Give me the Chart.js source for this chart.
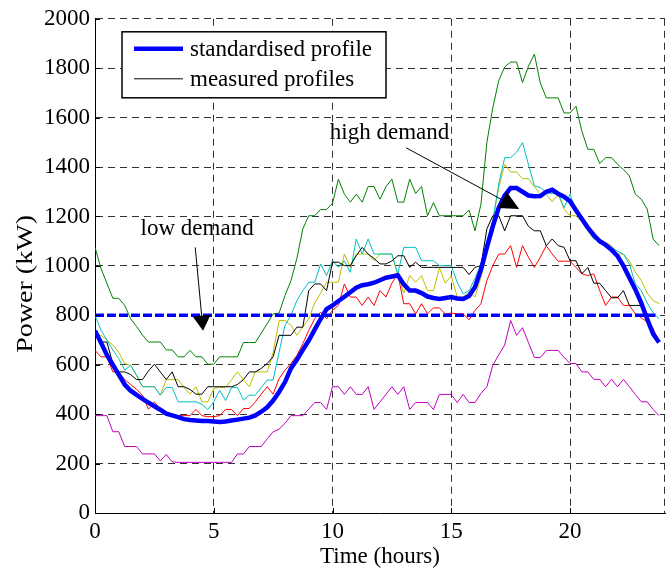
<!DOCTYPE html>
<html>
<head>
<meta charset="utf-8">
<title>Power profiles</title>
<script src="https://cdn.jsdelivr.net/npm/chart.js@4.4.0/dist/chart.umd.min.js"></script>
<style>
  html, body { margin: 0; padding: 0; background: #fff; }
</style>
</head>
<body>
<canvas id="power-graph" width="670" height="571"></canvas>
<script>
// quarter-hour sample times over one day
const hours = Array.from({ length: 96 }, (_, i) => i / 4);

// standardised profile (kW)
const standardised = [
    737, 690, 640, 600, 560, 520, 495, 478,
    462, 447, 432, 418, 402, 395, 388, 380,
    376, 374, 372, 372, 370, 368, 370, 374,
    378, 382, 386, 395, 410, 428, 455, 490,
    530, 585, 620, 660, 698, 742, 785, 825,
    840, 858, 875, 893, 912, 922, 926, 932,
    942, 952, 957, 962, 925, 900, 900, 890,
    876, 870, 866, 870, 874, 868, 866, 878,
    915, 985, 1075, 1160, 1236, 1285, 1315, 1315,
    1300, 1285, 1282, 1283, 1300, 1308, 1292, 1280,
    1262, 1225, 1190, 1155, 1125, 1100, 1085, 1065,
    1040, 1000, 952, 905, 850, 785, 725, 690
];

// measured profiles (kW)
const measuredGreen = [
    1075, 990, 930, 869, 869, 840, 786, 755,
    720, 692, 692, 692, 660, 660, 632, 632,
    658, 632, 632, 602, 602, 632, 632, 632,
    632, 690, 690, 690, 728, 766, 806, 809,
    880, 940, 1030, 1150, 1203, 1203, 1228, 1228,
    1254, 1351, 1290, 1258, 1290, 1258, 1321, 1321,
    1270, 1320, 1351, 1258, 1258, 1351, 1293, 1321,
    1203, 1256, 1203, 1203, 1203, 1203, 1203, 1226,
    1142, 1250, 1500, 1640, 1750, 1805, 1825, 1825,
    1742, 1808, 1857, 1740, 1680, 1680, 1680, 1619,
    1619, 1646, 1545, 1472, 1472, 1414, 1438, 1438,
    1411, 1390, 1364, 1290, 1270, 1230, 1109, 1082
];
const measuredCyan = [
    800, 740, 700, 660, 625, 578, 598, 558,
    511, 511, 511, 477, 508, 508, 450, 450,
    450, 450, 440, 419, 450, 497, 455, 508,
    508, 457, 477, 477, 508, 538, 538, 650,
    760, 800, 860, 900, 934, 934, 1008, 961,
    1021, 994, 1021, 974, 1109, 1048, 1109, 1048,
    1048, 1048, 1048, 968, 1075, 1075, 1075, 1021,
    1021, 1021, 1001, 1001, 1001, 934, 887, 900,
    950, 1008, 1100, 1183, 1331, 1438, 1438, 1460,
    1499, 1411, 1324, 1317, 1297, 1293, 1293, 1236,
    1290, 1223, 1189, 1150, 1109, 1109, 1090, 1075,
    1060, 1048, 1008, 927, 900, 850, 810, 786
];
const measuredOlive = [
    719, 719, 700, 680, 650, 605, 598, 555,
    511, 511, 511, 477, 540, 540, 540, 508,
    481, 511, 450, 450, 504, 508, 508, 540,
    571, 538, 511, 571, 571, 571, 650, 779,
    779, 760, 719, 752, 786, 850, 890, 934,
    934, 934, 1048, 994, 1048, 1048, 1048, 1021,
    1048, 1048, 1048, 961, 890, 961, 934, 961,
    900, 900, 992, 930, 961, 874, 874, 894,
    874, 954, 1048, 1183, 1317, 1411, 1380, 1380,
    1353, 1353, 1320, 1290, 1290, 1260, 1290, 1230,
    1203, 1203, 1180, 1140, 1109, 1109, 1095, 1082,
    1048, 1048, 1020, 975, 941, 890, 860, 847
];
const measuredBlack = [
    730, 692, 692, 605, 571, 571, 560, 540,
    540, 575, 602, 571, 540, 571, 511, 511,
    500, 481, 481, 511, 511, 511, 511, 511,
    520, 540, 571, 571, 585, 605, 632, 719,
    719, 719, 752, 752, 900, 927, 927, 900,
    1015, 1015, 1001, 1001, 1041, 1075, 1048, 1030,
    1008, 1008, 1020, 1041, 1041, 994, 1015, 994,
    994, 994, 994, 994, 994, 994, 994, 965,
    994, 1001, 1150, 1203, 1203, 1142, 1203, 1203,
    1203, 1160, 1142, 1142, 1082, 1109, 1082, 1075,
    1021, 1021, 968, 994, 930, 930, 900, 871,
    871, 900, 840, 840, 840, 806, 726, 699
];
const measuredRed = [
    658, 632, 632, 571, 571, 540, 520, 500,
    477, 420, 450, 419, 405, 394, 394, 394,
    394, 419, 394, 390, 390, 394, 419, 419,
    394, 423, 423, 450, 481, 511, 481, 544,
    578, 605, 638, 685, 739, 786, 813, 786,
    820, 840, 927, 874, 874, 840, 874, 840,
    900, 874, 930, 968, 847, 847, 806, 847,
    806, 830, 830, 806, 809, 806, 806, 782,
    820, 847, 941, 1001, 1048, 1048, 1082, 994,
    1082, 1035, 994, 1035, 1082, 1048, 1019, 1019,
    1019, 994, 968, 961, 968, 900, 840, 874,
    874, 840, 840, 806, 790, 773, 746, 692
];
const measuredMagenta = [
    394, 394, 394, 329, 329, 269, 269, 269,
    239, 239, 239, 211, 237, 207, 205, 205,
    205, 205, 205, 205, 205, 205, 205, 205,
    239, 239, 269, 269, 269, 300, 329, 339,
    363, 394, 394, 394, 420, 447, 447, 419,
    511, 511, 480, 511, 480, 480, 511, 419,
    450, 480, 511, 480, 511, 419, 447, 447,
    447, 419, 480, 480, 480, 447, 480, 447,
    447, 484, 511, 598, 640, 680, 779, 719,
    750, 690, 629, 629, 658, 658, 658, 630,
    605, 605, 571, 571, 541, 541, 511, 541,
    511, 541, 511, 480, 450, 450, 419, 394
];

// threshold separating low and high demand
const demandLevel = 800;
const demandLevelHours = [0, 23.6];

const measuredSeries = [
    { values: measuredBlack, color: 'rgb(0,0,0)' },
    { values: measuredGreen, color: 'rgb(0,128,0)' },
    { values: measuredCyan, color: 'rgb(0,191,191)' },
    { values: measuredOlive, color: 'rgb(191,191,0)' },
    { values: measuredRed, color: 'rgb(255,0,0)' },
    { values: measuredMagenta, color: 'rgb(191,0,191)' }
];

const SERIF = "'Liberation Serif', 'Times New Roman', serif";
const FONT_SIZE = 23;
const GRID = '#333';

function toPoints(values) { // pairs every value with its sample time
    return values.map((v, i) => ({ x: hours[i], y: v }));
}

function drawArrow(ctx, x1, y1, x2, y2, len, half) { // thin shaft with a filled head at (x2, y2)
    const ang = Math.atan2(y2 - y1, x2 - x1);
    const bx = x2 - len * Math.cos(ang);
    const by = y2 - len * Math.sin(ang);
    ctx.beginPath();
    ctx.moveTo(x1, y1);
    ctx.lineTo(bx, by);
    ctx.stroke();
    ctx.beginPath();
    ctx.moveTo(x2, y2);
    ctx.lineTo(bx - half * Math.sin(ang), by + half * Math.cos(ang));
    ctx.lineTo(bx + half * Math.sin(ang), by - half * Math.cos(ang));
    ctx.closePath();
    ctx.fill();
}

// text labels with arrows, placed in data units (hours, kW)
const notes = [
    { text: 'low demand', at: [4.3, 1150], from: [4.22, 1075], to: [4.55, 738], len: 15, half: 9 },
    { text: 'high demand', at: [12.4, 1540], from: [13.1, 1478], to: [17.86, 1230], len: 19, half: 9 }
];

const overlay = {
    id: 'overlay',
    afterDatasetsDraw(chart) {
        const { ctx, chartArea: a, scales: { x, y } } = chart;
        ctx.save();

        // dashed right edge of the plot box
        ctx.strokeStyle = GRID;
        ctx.lineWidth = 1;
        ctx.setLineDash([7, 5]);
        ctx.beginPath();
        ctx.moveTo(a.right - 0.5, a.top);
        ctx.lineTo(a.right - 0.5, a.bottom);
        ctx.stroke();
        ctx.setLineDash([]);

        // inward tick marks
        ctx.strokeStyle = '#000';
        x.ticks.forEach(t => {
            const px = Math.round(x.getPixelForValue(t.value)) + 0.5;
            ctx.beginPath();
            ctx.moveTo(px, a.bottom);
            ctx.lineTo(px, a.bottom - 5);
            ctx.stroke();
        });
        y.ticks.forEach(t => {
            const py = Math.round(y.getPixelForValue(t.value)) + 0.5;
            ctx.beginPath();
            ctx.moveTo(a.left, py);
            ctx.lineTo(a.left + 5, py);
            ctx.stroke();
        });

        // legend box
        const lx = a.left + 27, ly = a.top + 13, lw = 264, lh = 66;
        ctx.fillStyle = '#fff';
        ctx.fillRect(lx, ly, lw, lh);
        ctx.strokeStyle = '#000';
        ctx.lineWidth = 1.5;
        ctx.strokeRect(lx, ly, lw, lh);
        ctx.font = FONT_SIZE + 'px ' + SERIF;
        ctx.textAlign = 'left';
        ctx.textBaseline = 'middle';
        [chart.data.datasets[1], chart.data.datasets[2]].forEach((ds, i) => {
            const ey = ly + 17 + i * 30;
            ctx.strokeStyle = ds.borderColor;
            ctx.lineWidth = ds.borderWidth;
            ctx.beginPath();
            ctx.moveTo(lx + 12, ey);
            ctx.lineTo(lx + 61, ey);
            ctx.stroke();
            ctx.fillStyle = '#000';
            ctx.fillText(ds.label, lx + 68, ey + 1);
        });

        // annotations
        ctx.fillStyle = '#000';
        ctx.strokeStyle = '#000';
        ctx.lineWidth = 1;
        ctx.textAlign = 'center';
        notes.forEach(n => {
            ctx.fillText(n.text, x.getPixelForValue(n.at[0]), y.getPixelForValue(n.at[1]));
            drawArrow(ctx,
                x.getPixelForValue(n.from[0]), y.getPixelForValue(n.from[1]),
                x.getPixelForValue(n.to[0]), y.getPixelForValue(n.to[1]),
                n.len, n.half);
        });

        // y axis title, drawn a little stretched along its length
        ctx.translate(26, (a.top + a.bottom) / 2 + 18);
        ctx.rotate(-Math.PI / 2);
        ctx.scale(1.22, 1);
        ctx.fillText('Power (kW)', 0, 0);
        ctx.restore();
    }
};

function powerGraph() { // daily load profiles with the demand threshold
    const datasets = [
        {
            label: 'demand level',
            data: demandLevelHours.map(h => ({ x: h, y: demandLevel })),
            borderColor: 'rgb(0,0,255)',
            borderWidth: 3.5,
            borderDash: [9, 3],
            order: 0
        },
        {
            label: 'standardised profile',
            data: toPoints(standardised),
            borderColor: 'rgb(0,0,255)',
            borderWidth: 4.5,
            order: 1
        }
    ];
    measuredSeries.forEach((s, i) => {
        datasets.push({
            label: 'measured profiles',
            data: toPoints(s.values),
            borderColor: s.color,
            borderWidth: 1,
            order: 2 + i
        });
    });

    const ctx = document.getElementById('power-graph').getContext('2d');
    new Chart(ctx, {
        type: 'line',
        data: { datasets: datasets },
        options: {
            responsive: false,
            animation: false,
            devicePixelRatio: 1,
            layout: { padding: { top: 17, right: 5, left: 0, bottom: 0 } },
            elements: { point: { radius: 0 }, line: { tension: 0 } },
            plugins: { legend: { display: false }, tooltip: { enabled: false } },
            scales: {
                x: {
                    type: 'linear',
                    min: 0,
                    max: 24,
                    afterFit: s => { s.height = 58; },
                    ticks: {
                        stepSize: 5,
                        includeBounds: false,
                        maxRotation: 0,
                        padding: 5,
                        color: '#000',
                        font: { family: SERIF, size: FONT_SIZE }
                    },
                    grid: { color: GRID, lineWidth: 1, drawTicks: false },
                    border: { display: true, color: '#000', width: 1, dash: [7, 5] },
                    title: {
                        display: true,
                        text: 'Time (hours)',
                        color: '#000',
                        font: { family: SERIF, size: FONT_SIZE },
                        padding: { top: 0, bottom: 0 }
                    }
                },
                y: {
                    min: 0,
                    max: 2000,
                    afterFit: s => { s.width = 95; },
                    ticks: {
                        stepSize: 200,
                        padding: 5,
                        color: '#000',
                        font: { family: SERIF, size: FONT_SIZE },
                        callback: v => String(v)
                    },
                    grid: { color: GRID, lineWidth: 1, drawTicks: false },
                    border: { display: true, color: '#000', width: 1, dash: [7, 5] }
                }
            }
        },
        plugins: [overlay]
    });
}

window.onload = () => {
    powerGraph();
};
</script>
</body>
</html>
